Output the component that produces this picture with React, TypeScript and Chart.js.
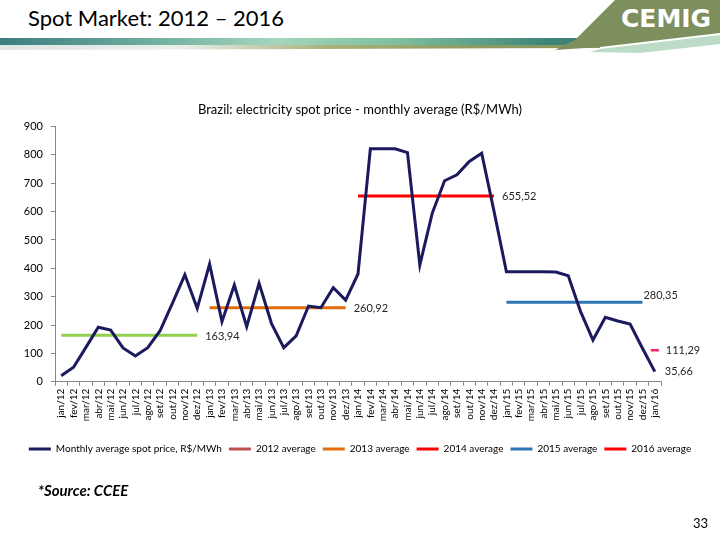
import React, { useEffect, useRef } from "react";
import { Chart, registerables } from "chart.js";

Chart.register(...registerables);

const categories = [
  "jan/12", "fev/12", "mar/12", "abr/12", "mai/12", "jun/12", "jul/12", "ago/12", "set/12", "out/12", "nov/12", "dez/12",
  "jan/13", "fev/13", "mar/13", "abr/13", "mai/13", "jun/13", "jul/13", "ago/13", "set/13", "out/13", "nov/13", "dez/13",
  "jan/14", "fev/14", "mar/14", "abr/14", "mai/14", "jun/14", "jul/14", "ago/14", "set/14", "out/14", "nov/14", "dez/14",
  "jan/15", "fev/15", "mar/15", "abr/15", "mai/15", "jun/15", "jul/15", "ago/15", "set/15", "out/15", "nov/15", "dez/15",
  "jan/16",
];

const monthlySpot = [
  21, 51, 121, 192, 182, 119, 91, 120, 180, 277, 377, 259,
  415, 212, 341, 194, 347, 206, 120, 162, 267, 261, 332, 288,
  380, 822, 822, 822, 808, 412, 594, 709, 730, 777, 806, 601,
  388, 388, 388, 388, 387, 374, 247, 147, 227, 214, 203, 118,
  35.66,
];

const yearSuffixes = ["12", "13", "14", "15", "16"];
const yearAverages = [163.94, 260.92, 655.52, 280.35, 111.29];
const yearLegendLabels = ["2012 average", "2013 average", "2014 average", "2015 average", "2016 average"];
const seriesLabel = "Monthly average spot price, R$/MWh";

const lineColors = ["#92D050", "#E46C0A", "#FF0000", "#2E75B6", "#FF1F6A"];
const legendColors = ["#C0504D", "#E46C0A", "#FF0000", "#2E75B6", "#FF0000"];
const NAVY = "#1B1A5E";
const FONT = "Lato, 'Open Sans', sans-serif";

const fmt = (v: number) => v.toFixed(2).replace(".", ",");

export default function App() {
  const canvasRef = useRef<HTMLCanvasElement | null>(null);

  useEffect(() => {
    if (!canvasRef.current) return;

    const avgDatasets = yearSuffixes.map((suf, i) => ({
      label: yearLegendLabels[i],
      data: categories.map((c) => (c.endsWith("/" + suf) ? yearAverages[i] : null)),
      borderColor: lineColors[i],
      backgroundColor: lineColors[i],
      borderWidth: 3,
      pointRadius: suf === "16" ? 4 : 0,
      pointStyle: "line" as const,
      pointBorderWidth: 2.5,
      pointBorderColor: lineColors[i],
      spanGaps: false,
      order: 2,
    }));

    const labelPlugin = {
      id: "avgLabels",
      afterDatasetsDraw(chart: any) {
        const { ctx } = chart;
        const xs = chart.scales.x;
        const ys = chart.scales.y;
        ctx.save();
        ctx.font = "11px " + FONT;
        ctx.fillStyle = "#262626";
        ctx.textAlign = "left";
        ctx.textBaseline = "middle";
        yearAverages.forEach((v, i) => {
          const suf = yearSuffixes[i];
          let last = -1;
          categories.forEach((c, k) => { if (c.endsWith("/" + suf)) last = k; });
          const x = xs.getPixelForValue(last);
          const y = ys.getPixelForValue(v);
          let dx = 8, dy = 1;
          if (suf === "15") { dx = 1; dy = -7; }
          if (suf === "16") { dx = 11; dy = 0; }
          ctx.fillText(fmt(v), x + dx, y + dy);
        });
        const li = monthlySpot.length - 1;
        ctx.fillText(fmt(monthlySpot[li]), xs.getPixelForValue(li) + 10, ys.getPixelForValue(monthlySpot[li]));
        ctx.restore();
      },
    };

    const chart = new Chart(canvasRef.current, {
      type: "line",
      data: {
        labels: categories,
        datasets: [
          {
            label: seriesLabel,
            data: monthlySpot,
            borderColor: NAVY,
            backgroundColor: NAVY,
            borderWidth: 3,
            pointRadius: 0,
            tension: 0,
            order: 1,
          },
          ...avgDatasets,
        ] as any,
      },
      options: {
        responsive: false,
        animation: false,
        layout: { padding: { top: 102, left: 0, right: 0, bottom: 76 } },
        plugins: {
          title: {
            display: true,
            text: "Brazil: electricity spot price - monthly average (R$/MWh)",
            color: "#000000",
            font: { family: FONT, size: 13, weight: "normal" },
            padding: { top: 0, bottom: 9 },
          },
          legend: {
            display: true,
            position: "bottom",
            labels: {
              boxWidth: 22,
              boxHeight: 3,
              padding: 7,
              color: "#000000",
              font: { family: FONT, size: 10 },
              generateLabels: (ch: any) =>
                ch.data.datasets.map((ds: any, i: number) => ({
                  text: ds.label,
                  fillStyle: i === 0 ? NAVY : legendColors[i - 1],
                  strokeStyle: i === 0 ? NAVY : legendColors[i - 1],
                  lineWidth: 0,
                  hidden: false,
                  datasetIndex: i,
                  fontColor: "#000000",
                })),
            },
          },
          tooltip: { enabled: false },
        },
        scales: {
          x: {
            type: "category",
            offset: true,
            grid: { display: true, drawOnChartArea: false, drawTicks: true, tickLength: 4, offset: true, color: "#868686" },
            border: { display: true, color: "#868686", width: 1 },
            ticks: {
              autoSkip: false,
              minRotation: 90,
              maxRotation: 90,
              padding: 3,
              color: "#000000",
              font: { family: FONT, size: 10 },
            },
            afterFit: (s: any) => { s.height = 55.3; },
          },
          y: {
            min: 0,
            max: 900,
            ticks: { stepSize: 100, padding: 8, color: "#000000", font: { family: FONT, size: 11 } },
            grid: { display: true, drawOnChartArea: false, drawTicks: true, tickLength: 4, color: "#868686" },
            border: { display: true, color: "#868686", width: 1 },
            afterFit: (s: any) => { s.width = 55; },
          },
          y2: {
            position: "right",
            display: true,
            min: 0,
            max: 900,
            grid: { display: false },
            ticks: { display: false },
            border: { display: false },
            afterFit: (s: any) => { s.width = 59; },
          },
        },
      } as any,
      plugins: [labelPlugin],
    });

    return () => chart.destroy();
  }, []);

  return (
    <div style={{ position: "absolute", top: 0, left: 0, width: 720, height: 540, background: "#ffffff", overflow: "hidden", fontFamily: FONT }}>
      {/* header band */}
      <div style={{ position: "absolute", left: 0, top: 38, width: 610, height: 7, background: "linear-gradient(90deg, #3c7d80 0%, #6fae9f 25%, #a5d6bd 45%, #7fbf9e 65%, #3f8479 90%, #3a7a70 100%)" }} />
      <div style={{ position: "absolute", left: 0, top: 45, width: 600, height: 5, background: "linear-gradient(90deg, #dfe6e4 0%, #e9eeea 30%, #a9b07a 55%, #8d9a62 80%, #8a9860 100%)", clipPath: "polygon(0 0, 100% 0, 100% 60%, 0 100%)" }} />
      <div style={{ position: "absolute", left: 0, top: 0, width: 720, height: 60, background: "#7e8f5e", clipPath: "polygon(615px 0, 720px 0, 720px 33px, 600px 47px, 555px 50px, 575px 40px)" }} />
      <div style={{ position: "absolute", left: 0, top: 0, width: 720, height: 60, background: "#bcdcc8", clipPath: "polygon(600px 49px, 720px 35px, 720px 44px, 640px 53px, 590px 52px)" }} />
      <div style={{ position: "absolute", left: 621, top: 3, fontFamily: "'DejaVu Sans', sans-serif", fontWeight: 700, fontSize: 25, color: "#ffffff", letterSpacing: 0, lineHeight: "32px" }}>CEMIG</div>
      <div style={{ position: "absolute", left: 28, top: 3, fontSize: 22, color: "#000000", lineHeight: "30px", whiteSpace: "nowrap" }}>Spot Market: 2012 – 2016</div>

      <canvas ref={canvasRef} width={720} height={540} style={{ position: "absolute", left: 0, top: 0, width: 720, height: 540 }} />

      <div style={{ position: "absolute", left: 38, top: 480, fontSize: 15, fontWeight: 700, fontStyle: "italic", color: "#000000", whiteSpace: "nowrap", lineHeight: "20px" }}>*Source: CCEE</div>
      <div style={{ position: "absolute", left: 693, top: 514, fontSize: 13, color: "#000000", lineHeight: "18px" }}>33</div>
    </div>
  );
}
